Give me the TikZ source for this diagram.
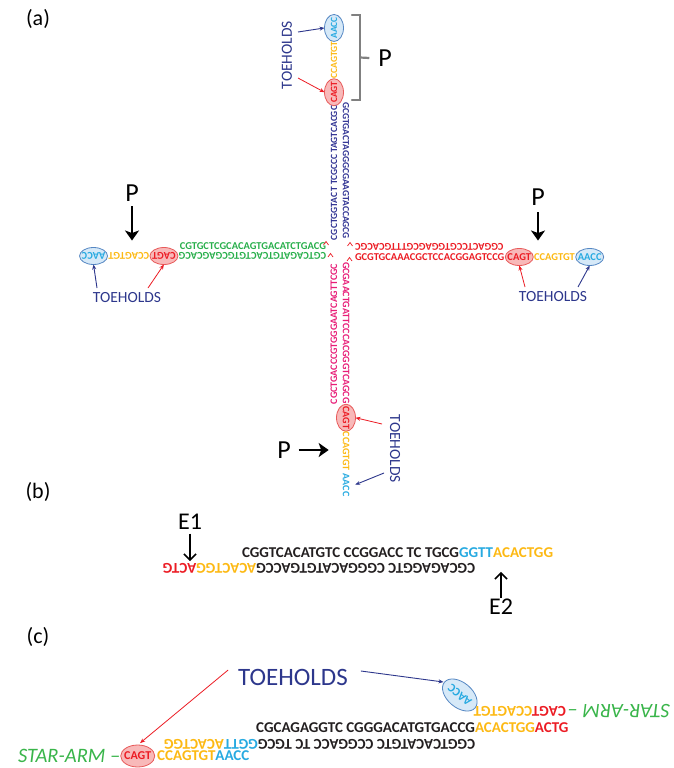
\documentclass[tikz,border=0pt]{standalone}
\usepackage{fontspec}
\setmainfont{Carlito}
\usetikzlibrary{arrows.meta,shapes.geometric,backgrounds,calc}

\definecolor{seqBlue}{RGB}{46,49,146}
\definecolor{seqGreen}{RGB}{40,175,75}
\definecolor{seqRed}{RGB}{236,28,36}
\definecolor{seqPink}{RGB}{232,30,120}
\definecolor{seqYellow}{RGB}{253,185,19}
\definecolor{seqCyan}{RGB}{39,170,225}
\definecolor{seqBlack}{RGB}{35,31,32}
\definecolor{toeNavy}{RGB}{45,55,140}
\definecolor{ellRedFill}{RGB}{248,185,185}
\definecolor{ellRedLine}{RGB}{232,90,90}
\definecolor{ellBlueFill}{RGB}{214,233,248}
\definecolor{ellBlueLine}{RGB}{85,135,195}
\definecolor{braceGray}{RGB}{128,128,128}
\definecolor{armGreen}{RGB}{57,181,74}

\begin{document}
\begin{tikzpicture}[x=1pt,y=-1pt,
  every node/.style={inner sep=0pt,outer sep=0pt},
  armH/.style={font=\fontsize{10.5}{12}\selectfont\bfseries},
  armT/.style={font=\fontsize{9.5}{11}\selectfont\bfseries},
  armB/.style={font=\fontsize{10}{12}\selectfont\bfseries},
  seqbig/.style={font=\fontsize{15}{18}\selectfont\bfseries},
  seqmid/.style={font=\fontsize{12}{14}\selectfont\bfseries},
  pad/.style={inner xsep=3pt},
  ellRed/.style={ellipse,draw=ellRedLine,fill=ellRedFill,line width=0.8pt,inner sep=0pt},
  ellBlue/.style={ellipse,draw=ellBlueLine,fill=ellBlueFill,line width=0.8pt,inner sep=0pt},
  ellH/.style={minimum width=28pt,minimum height=17pt},
  ellV/.style={minimum width=19pt,minimum height=27pt},
  toe/.style={text=toeNavy,font=\fontsize{15.5}{18}\selectfont},
  redtip/.style={draw=seqRed,line width=0.8pt,-{Stealth[length=5pt,width=4pt]}},
  navytip/.style={draw=toeNavy,line width=0.9pt,-{Stealth[length=5pt,width=4pt]}},
  plabel/.style={font=\fontsize{26}{30}\selectfont},
  elabel/.style={font=\fontsize{24}{28}\selectfont},
  parrow/.style={line width=2.6pt,-{Stealth[length=10pt,width=14pt,inset=2.5pt]}},
  earrow/.style={line width=1.6pt,-{Straight Barb[length=6pt,width=12pt]}},
  panel/.style={font=\fontsize{22}{26}\selectfont},
  star/.style={text=armGreen,font=\fontsize{20.5}{24}\selectfont\itshape},
  caret/.style={draw=seqRed,line width=0.7pt},
  bracketline/.style={draw=braceGray,line width=2.2pt}
]
\useasboundingbox (0,0) rectangle (673,768);
\begin{scope}[on background layer]
  \fill[white] (0,0) rectangle (673,768);
\end{scope}

% panel letters
\node[panel] (labA) at (38,19) {(a)};
\node[panel] (labB) at (38,492) {(b)};
\node[panel] (labC) at (38,637) {(c)};

% ---------- (a) four-way junction ----------
% left arm
\node[armH,text=seqGreen,anchor=east] (lT) at (326,246) {CGTGCTCGCACAGTGACATCTGACG};
\node[armH,text=seqGreen,rotate=180,anchor=west] (lB) at (326,256) {CGTCAGATGTCACTGTGCGAGCACG};
\node[armH,pad,text=seqRed,rotate=180,anchor=west] (lR) at (lB.east) {CAGT};
\node[armH,text=seqYellow,rotate=180,anchor=west] (lY) at (lR.east) {CCAGTGT};
\node[armH,pad,text=seqCyan,rotate=180,anchor=west] (lA) at (lY.east) {AACC};

% right arm
\node[armH,text=seqRed,rotate=180,anchor=east] (rT) at (355,247) {CGGACTCCGTGGAGCGTTTGCACGC};
\node[armH,text=seqRed,anchor=west] (rB) at (355,257) {GCGTGCAAACGCTCCACGGAGTCCG};
\node[armH,pad,text=seqRed,anchor=west] (rR) at (rB.east) {CAGT};
\node[armH,text=seqYellow,anchor=west] (rY) at (rR.east) {CCAGTGT};
\node[armH,pad,text=seqCyan,anchor=west] (rA) at (rY.east) {AACC};

% top arm
\node[armT,text=seqBlue,rotate=90,anchor=west] (tL) at (334,240) {CGCTGGTAC\,T\,TCGCCC\,TAGTCACGC};
\node[armT,pad,text=seqRed,rotate=90,anchor=west] (tR) at (tL.east) {CAGT};
\node[armT,text=seqYellow,rotate=90,anchor=west] (tY) at (tR.east) {CCAGTGT};
\node[armT,pad,text=seqCyan,rotate=90,anchor=west] (tA) at (tY.east) {AACC};
\node[armT,text=seqBlue,rotate=-90,anchor=east] (tS) at (346,239) {GCGTGACTAGGGCGAAGTACCAGCG};

% bottom arm
\node[armB,text=seqPink,rotate=90,anchor=east] (bL) at (334,264) {CGCTGACCCGTGGGAATCAGTTCGC};
\node[armB,text=seqPink,rotate=-90,anchor=west] (bS) at (346,262) {GCGAACTGATTCCCACGGGTCAGCG};
\node[armB,pad,text=seqRed,rotate=-90,anchor=west] (bR) at (bS.east) {CAGT};
\node[armB,text=seqYellow,rotate=-90,anchor=west] (bY) at (bR.east) {CCAGTGT};
\node[armB,pad,text=seqCyan,rotate=-90,anchor=west] (bA) at (bY.east) {AACC};

% toehold ellipses behind the sticky-end letters
\begin{scope}[on background layer]
  \node[ellRed,ellH] (lRe) at (lR.center) {};
  \node[ellBlue,ellH] (lAe) at (lA.center) {};
  \node[ellRed,ellH] (rRe) at (rR.center) {};
  \node[ellBlue,ellH] (rAe) at (rA.center) {};
  \node[ellRed,ellV] (tRe) at (tR.center) {};
  \node[ellBlue,ellV] (tAe) at (tA.center) {};
  \node[ellRed,ellV] (bRe) at (bR.center) {};
\end{scope}

% strand ends at the branch point
\draw[caret] (323.5,245) -- (326,241.5) -- (328.5,245);
\draw[caret] (347.5,246) -- (350,242.5) -- (352.5,246);
\draw[caret] (328,257) -- (330.5,253.5) -- (333,257);
\draw[caret] (347,261) -- (349.5,257.5) -- (352,261);

% toehold labels
\node[toe] (toeL) at (127,298) {TOEHOLDS};
\node[toe] (toeR) at (553,297) {TOEHOLDS};
\node[toe,rotate=90] (toeT) at (287,55) {TOEHOLDS};
\node[toe,rotate=-90] (toeB) at (395,449) {TOEHOLDS};

\draw[navytip] ($(toeL.center)+(-30,-10)$) -- (lAe.south);
\draw[redtip] ($(toeL.center)+(21,-10)$) -- (lRe.south);
\draw[redtip] ($(toeR.center)+(-28,-10)$) -- (rRe.south);
\draw[navytip] ($(toeR.center)+(25,-10)$) -- (rAe.south);
\draw[navytip] ($(toeT.center)+(11,-23)$) -- (tAe.west);
\draw[redtip] ($(toeT.center)+(11,23)$) -- (tRe.west);
\draw[redtip] ($(toeB.center)+(-13,-25)$) -- (bRe.east);
\draw[navytip,shorten >=1pt] ($(toeB.center)+(-11,24)$) -- ($(bA.north)+(5,0)$);

% P markers
\node[plabel] (pL) at (132,193) {P};
\node[plabel] (pR) at (538,197) {P};
\node[plabel] (pT) at (385,58) {P};
\node[plabel] (pB) at (284,450) {P};
\draw[parrow,shorten <=5pt,shorten >=12pt] (pL.south) -- (pL.south |- lY.south);
\draw[parrow,shorten <=7pt,shorten >=13pt] (pR.south) -- (pR.south |- rY.north);
\draw[parrow,shorten <=8pt,shorten >=14pt] (pB.east) -- (pB.east -| bY.south);
\draw[bracketline,line cap=round] (352,15) -- (360,15) -- (360,100) -- (352,100);
\draw[bracketline] (360,57.5) -- ($(pT.west)+(-9,0)$);

% ---------- (b) ----------
\node[seqbig,text=seqBlack,anchor=west] (b1K) at (242,553) {CGGTCACATGTC CCGGACC TC TGCG};
\node[seqbig,text=seqCyan,anchor=west] (b1B) at (b1K.east) {GGTT};
\node[seqbig,text=seqYellow,anchor=west] (b1Y) at (b1B.east) {ACACTGG};
\node[seqbig,text=seqBlack,rotate=180,anchor=west] (b2K) at (475,568) {CGCAGAGGTC CGGGACATGTGACCG};
\node[seqbig,text=seqYellow,rotate=180,anchor=west] (b2Y) at (b2K.east) {ACACTGG};
\node[seqbig,text=seqRed,rotate=180,anchor=west] (b2R) at (b2Y.east) {ACTG};

\node[elabel] (e1) at (190,522) {E1};
\node[elabel] (e2) at (501,607) {E2};
\draw[earrow,shorten <=4pt,shorten >=2pt] (e1.south) -- (e1.south |- b2Y.south);
\draw[earrow,shorten <=1pt,shorten >=14pt] (e2.north) -- (e2.north |- b1B.south);

% ---------- (c) ----------
\node[toe,font=\fontsize{25}{30}\selectfont] (toeC) at (293,677) {TOEHOLDS};

\node[star,rotate=180,anchor=west] (c1G) at (670,711) {STAR-ARM –};
\node[seqbig,text=seqRed,rotate=180,anchor=west] (c1R) at ([xshift=-2pt]c1G.east) {CAGT};
\node[seqbig,text=seqYellow,rotate=180,anchor=west] (c1Y) at (c1R.east) {CCAGTGT};
\node[seqmid,text=seqCyan,rotate=140] (c1A) at ($(c1Y.east)+(-14,-16)$) {AACC};

\node[seqbig,text=seqBlack,anchor=east] (c2K) at (475,728) {CGCAGAGGTC CGGGACATGTGACCG};
\node[seqbig,text=seqYellow,anchor=west] (c2Y) at (c2K.east) {ACACTGG};
\node[seqbig,text=seqRed,anchor=west] (c2R) at (c2Y.east) {ACTG};

\node[seqbig,text=seqBlack,rotate=180,anchor=west] (c3K) at (475,744) {CGGTCACATGTC CCGGACC TC TGCG};
\node[seqbig,text=seqCyan,rotate=180,anchor=west] (c3B) at (c3K.east) {GGTT};
\node[seqbig,text=seqYellow,rotate=180,anchor=west] (c3Y) at (c3B.east) {ACACTGG};

\node[star,anchor=west] (c4G) at (18,756) {STAR-ARM –};
\node[seqmid,inner xsep=4pt,text=seqRed,anchor=west] (c4R) at (c4G.east) {CAGT};
\node[seqbig,text=seqYellow,anchor=west] (c4Y) at ([xshift=2pt]c4R.east) {CCAGTGT};
\node[seqbig,text=seqCyan,anchor=west] (c4A) at (c4Y.east) {AACC};

\begin{scope}[on background layer]
  \node[ellBlue,minimum width=40pt,minimum height=25pt,rotate=-40] (c1Ae) at (c1A.center) {};
  \node[ellRed,minimum width=34pt,minimum height=22pt] (c4Re) at (c4R.center) {};
\end{scope}

\draw[redtip,shorten >=3pt] ($(toeC.west)+(-10,-7)$) -- (c4Re.north);
\draw[navytip,shorten >=1pt] ($(toeC.east)+(13,-6)$) -- (c1Ae.west);
\end{tikzpicture}
\end{document}
